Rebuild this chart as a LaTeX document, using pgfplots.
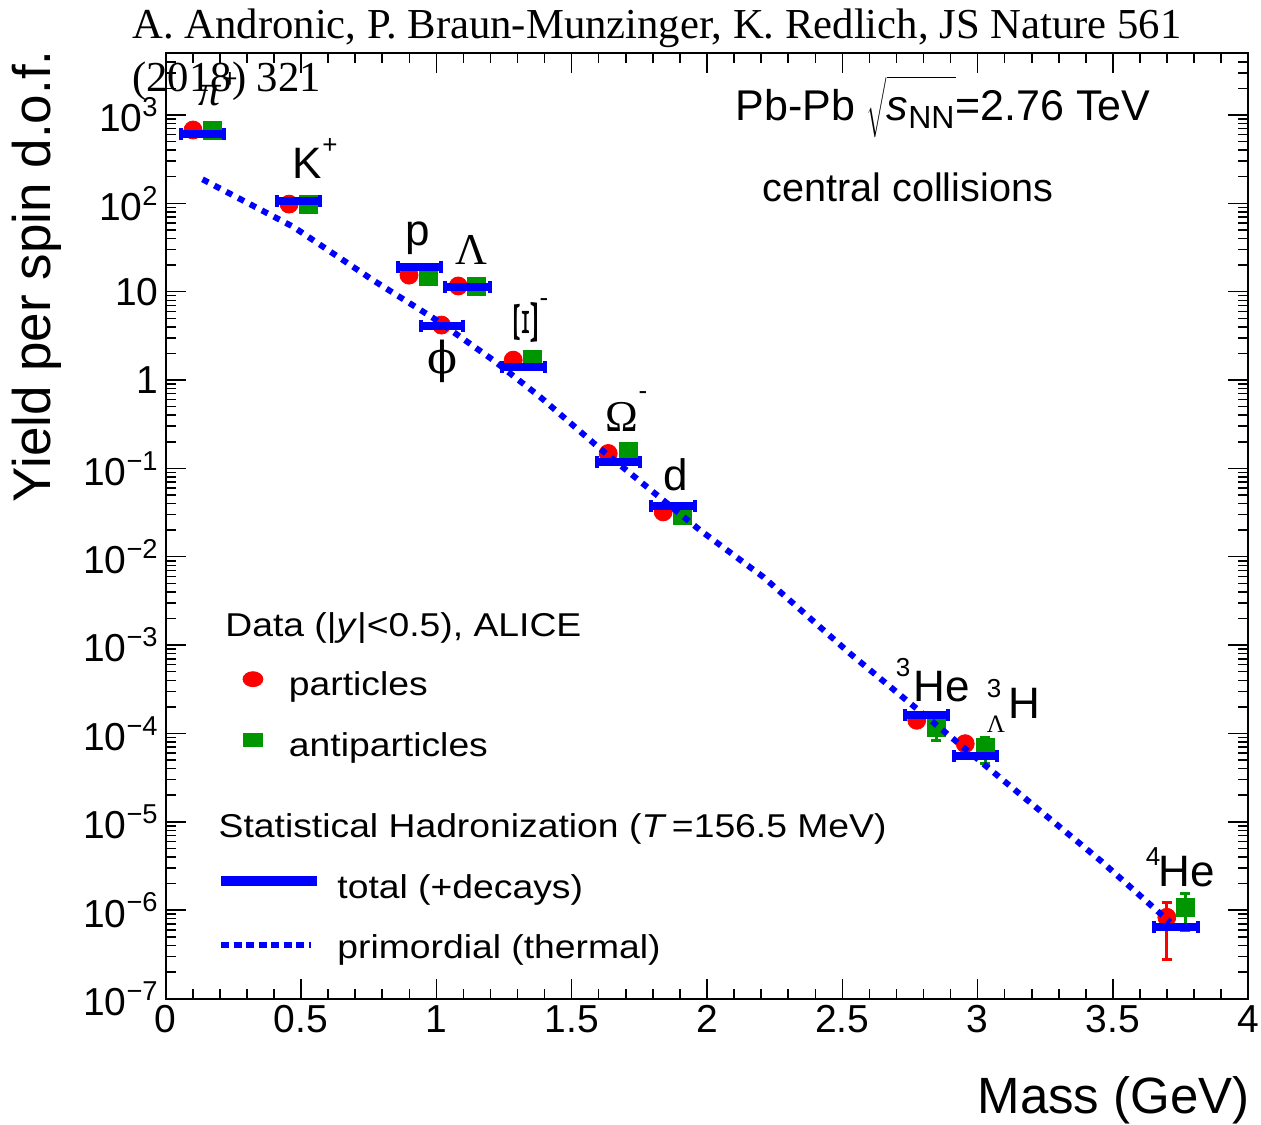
\documentclass[border=0pt]{standalone}
\usepackage{fontspec}
\setmainfont{Liberation Sans}
\newfontfamily\tms{Liberation Serif}
\newfontfamily\djs{DejaVu Serif}
\newfontfamily\legfont{Liberation Sans}[FakeStretch=1.13]
\usepackage{pgfplots}
\usepackage{pgfplotstable}
\pgfplotsset{compat=1.18}
\definecolor{rred}{RGB}{255,0,0}
\definecolor{rgreen}{RGB}{0,150,0}
\definecolor{rblue}{RGB}{0,0,255}
\newcommand{\fs}[1]{\fontsize{#1}{#1}\selectfont}
\newcommand{\tp}[1]{10\textsuperscript{#1}}

\pgfplotstableread{
x y ep em
0.101 676 0 0
0.456 98 0 0
0.899 15.4 0 0
1.019 4.19 0 0
1.081 11.6 0 0
1.284 1.68 0 0
1.635 0.1475 0 0
1.838 0.0322 0 0
2.775 1.41e-4 0.2e-4 0.2e-4
2.954 7.66e-5 0 0
3.699 8.3e-7 4.0e-7 5.5e-7
}\particles

\pgfplotstableread{
x y ep em
0.171 676 0 0
0.526 98 0 0
0.970 14.8 0 0
1.149 11.6 0 0
1.356 1.70 0 0
1.709 0.154 0 0
1.910 0.0295 0 0
2.847 1.16e-4 0.25e-4 0.32e-4
3.028 7.0e-5 2.1e-5 2.45e-5
3.767 1.08e-6 4.5e-7 4.9e-7
}\antiparticles

\pgfplotstableread{
x y
0.058 604
0.214 604
nan nan
0.411 106
0.570 106
nan nan
0.859 18.8
1.017 18.8
nan nan
1.031 11.4
1.198 11.4
nan nan
0.942 4.07
1.097 4.07
nan nan
1.241 1.41
1.401 1.41
nan nan
1.595 0.117
1.753 0.117
nan nan
1.792 0.0373
1.956 0.0373
nan nan
2.732 1.60e-4
2.892 1.60e-4
nan nan
2.911 5.55e-5
3.071 5.55e-5
nan nan
3.650 6.43e-7
3.813 6.43e-7
}\total

\pgfplotstableread{
x y
0.136 187
0.471 54.3
0.766 13.5
1.001 4.76
1.210 1.68
1.383 0.646
1.604 0.168
1.974 0.0200
2.208 0.0059
2.529 8.0e-4
3.170 1.9e-5
3.453 3.66e-6
3.711 7.3e-7
}\primordial

\begin{document}
\begin{tikzpicture}
\begin{axis}[
  at={(0pt,0pt)}, anchor=south west,
  scale only axis, width=541.3pt, height=472.9pt,
  xmin=0, xmax=4, ymode=log, ymin=1e-7, ymax=5070,
  xtick={0,0.5,1,1.5,2,2.5,3,3.5,4},
  xticklabels={0,0.5,1,1.5,2,2.5,3,3.5,4},
  minor x tick num=4,
  ytick={1e-7,1e-6,1e-5,1e-4,1e-3,1e-2,1e-1,1,10,100,1000},
  yticklabels={\tp{−7},\tp{−6},\tp{−5},\tp{−4},\tp{−3},\tp{−2},\tp{−1},1,10,\tp{2},\tp{3}},
  minor ytick={2e-7,3e-7,4e-7,5e-7,6e-7,7e-7,8e-7,9e-7,
    2e-6,3e-6,4e-6,5e-6,6e-6,7e-6,8e-6,9e-6,
    2e-5,3e-5,4e-5,5e-5,6e-5,7e-5,8e-5,9e-5,
    2e-4,3e-4,4e-4,5e-4,6e-4,7e-4,8e-4,9e-4,
    2e-3,3e-3,4e-3,5e-3,6e-3,7e-3,8e-3,9e-3,
    2e-2,3e-2,4e-2,5e-2,6e-2,7e-2,8e-2,9e-2,
    0.2,0.3,0.4,0.5,0.6,0.7,0.8,0.9,
    2,3,4,5,6,7,8,9,
    20,30,40,50,60,70,80,90,
    200,300,400,500,600,700,800,900,
    2000,3000,4000,5000},
  tick align=inside,
  major tick length=10pt, minor tick length=5pt,
  tick style={black, line width=0.75pt},
  axis line style={line width=1pt},
  tick label style={font=\fs{19.5}},
  legend cell align=left,
  legend style={at={(0.0714,0.3460)}, anchor=north west, draw=none, fill=none,
    inner sep=0pt, outer sep=0pt, row sep=15pt, column sep=13pt,
    font=\legfont\fs{16.5},
    nodes={inner sep=0pt, text height=12pt, text depth=3.5pt}},
  legend image code/.code={\draw[#1] plot coordinates {(0pt,3.8pt)};},
]
\addplot[forget plot, only marks, mark=*, color=rred, mark size=4.5pt,
  error bars/.cd, y dir=both, y explicit,
  error bar style={line width=1.5pt, rred},
  error mark options={rotate=90, line width=1.5pt, mark size=2.6pt, rred}]
  table[x=x, y=y, y error plus=ep, y error minus=em] {\particles};
\addplot[forget plot, only marks, mark=square*, color=rgreen, mark size=4.5pt,
  error bars/.cd, y dir=both, y explicit,
  error bar style={line width=1.5pt, rgreen},
  error mark options={rotate=90, line width=1.5pt, mark size=2.6pt, rgreen}]
  table[x=x, y=y, y error plus=ep, y error minus=em] {\antiparticles};
\addlegendimage{only marks, mark=*, color=rred, mark size=3.75pt, mark options={xscale=1.33}}
\addlegendentry{particles}
\addlegendimage{only marks, mark=square*, color=rgreen, mark size=3.3pt, mark options={xscale=1.45}}
\addlegendentry{antiparticles}
\end{axis}

\begin{axis}[
  at={(0pt,0pt)}, anchor=south west,
  scale only axis, width=541.3pt, height=472.9pt,
  xmin=0, xmax=4, ymode=log, ymin=1e-7, ymax=5070,
  hide axis,
  legend cell align=left,
  legend style={at={(0.0465,0.1315)}, anchor=north west, draw=none, fill=none,
    inner sep=0pt, outer sep=0pt, row sep=14.5pt, column sep=7.7pt,
    font=\legfont\fs{16.5},
    nodes={inner sep=0pt, text height=12pt, text depth=3.5pt}},
]
\addplot[forget plot, rblue, line width=4pt, unbounded coords=jump,
  mark=|, mark size=3pt, mark options={solid, line width=2pt}]
  table[x=x, y=y] {\total};
\addplot[forget plot, rblue, line width=3pt, dash pattern=on 3.3pt off 3.4pt]
  table[x=x, y=y] {\primordial};
\addlegendimage{legend image code/.code={\draw[rblue, line width=5pt] (0pt,4.2pt) -- (48pt,4.2pt);}}
\addlegendentry{total (+decays)}
\addlegendimage{legend image code/.code={\draw[rblue, line width=3pt, dash pattern=on 4.15pt off 2.1pt] (0pt,2.5pt) -- (45pt,2.5pt);}}
\addlegendentry{primordial (thermal)}
\end{axis}

\begin{scope}[x=0.5pt, y=-0.5pt, shift={(-82.85pt,499.25pt)}]
  % particle labels
  \node[font=\tms\itshape\fs{22}] at (210,96) {π};
  \node[font=\fs{13}] at (230,80) {+};
  \node[font=\fs{22}] at (307,163) {K};
  \node[font=\fs{13}] at (330,146) {+};
  \node[font=\fs{22}] at (418,238) {p};
  \node[font=\tms\fs{22}] at (471,250) {Λ};
  \node[font=\djs\fs{22}] at (442,361) {ϕ};
  \node[font=\tms\fs{22}, rotate=90, xscale=1.7, yscale=0.8] at (526,322) {Ξ};
  \node[font=\fs{13}] at (544,303) {-};
  \node[font=\tms\fs{22}] at (622,417) {Ω};
  \node[font=\fs{13}] at (643,396) {-};
  \node[font=\fs{22}] at (676,475) {d};
  \node[font=\fs{13}] at (903,668) {3};
  \node[font=\fs{22}] at (942,687) {He};
  \node[font=\fs{13}] at (994,689) {3};
  \node[font=\tms\fs{12.5}] at (996,724) {Λ};
  \node[font=\fs{22}] at (1024,703) {H};
  \node[font=\fs{13}] at (1153,857) {4};
  \node[font=\fs{22}] at (1187,872) {He};
  % title
  \node[anchor=base west, inner sep=0pt, font=\fs{21.5}] at (735,121)
    {Pb-Pb $\displaystyle\sqrt{\vphantom{\Bigg(}\mbox{\fs{21.5}\itshape s}_{\mbox{\fs{16}NN}}}$=2.76 TeV};
  \node[anchor=base west, inner sep=0pt, font=\fs{19.8}] at (762,202) {central collisions};
  % legend headers
  \node[anchor=base west, inner sep=0pt, font=\legfont\fs{16.5}] at (225,636)
    {Data (|\textit{y}|<0.5), ALICE};
  \node[anchor=base west, inner sep=0pt, font=\legfont\fs{16.5}] at (218.3,837.7)
    {Statistical Hadronization (\textit{T}\,=156.5 MeV)};
  % axis labels
  \node[rotate=90, anchor=base east, inner sep=0pt, font=\fs{26.5}] at (51,50)
    {Yield per spin d.o.f.};
  \node[anchor=base east, inner sep=0pt, font=\fs{25.5}] at (1250,1113) {Mass (GeV)};
  % header
  \node[anchor=base west, inner sep=0pt, font=\tms\fs{21.35}] at (132,38.3)
    {A. Andronic, P. Braun-Munzinger, K. Redlich, JS Nature 561};
  \node[anchor=base west, inner sep=0pt, font=\tms\fs{21.35}] at (132,91.7) {(2018) 321};
  \pgfresetboundingbox
  \path (0,0) rectangle (1261,1124);
\end{scope}
\end{tikzpicture}
\end{document}
